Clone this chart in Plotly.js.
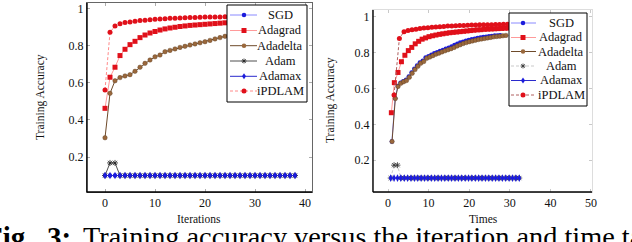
<!DOCTYPE html>
<html><head><meta charset="utf-8">
<script src="https://cdn.plot.ly/plotly-3.0.1.min.js"></script>
<style>html,body{margin:0;padding:0;background:#fff;overflow:hidden}#chart{width:632px;height:242px}</style>
</head><body><div id="chart"></div>
<script>
// ---------- Left panel: accuracy vs iterations ----------
const iterations = [0,1,2,3,4,5,6,7,8,9,10,11,12,13,14,15,16,17,18,19,20,21,22,23,24,25,26,27,28,29,30,31,32,33,34,35,36,37,38];
const iterSGD      = [0.1,0.1,0.1,0.1,0.1,0.1,0.1,0.1,0.1,0.1,0.1,0.1,0.1,0.1,0.1,0.1,0.1,0.1,0.1,0.1,0.1,0.1,0.1,0.1,0.1,0.1,0.1,0.1,0.1,0.1,0.1,0.1,0.1,0.1,0.1,0.1,0.1,0.1,0.1];
const iterAdagrad  = [0.463,0.631,0.685,0.748,0.782,0.807,0.825,0.845,0.859,0.870,0.878,0.886,0.892,0.897,0.901,0.905,0.908,0.911,0.913,0.915,0.917,0.919,0.921,0.923,0.925,0.927,0.928,0.930,0.931,0.932,0.933,0.934,0.935,0.936,0.937,0.938,0.939,0.940,0.941];
const iterAdadelta = [0.304,0.544,0.612,0.629,0.638,0.645,0.663,0.685,0.706,0.724,0.741,0.751,0.769,0.776,0.784,0.792,0.798,0.805,0.811,0.817,0.823,0.830,0.838,0.845,0.852,0.857,0.862,0.866,0.870,0.874,0.877,0.880,0.883,0.886,0.889,0.891,0.893,0.895,0.897];
const iterAdam     = [0.1,0.168,0.168,0.1,0.1,0.1,0.1,0.1,0.1,0.1,0.1,0.1,0.1,0.1,0.1,0.1,0.1,0.1,0.1,0.1,0.1,0.1,0.1,0.1,0.1,0.1,0.1,0.1,0.1,0.1,0.1,0.1,0.1,0.1,0.1,0.1,0.1,0.1,0.1];
const iterAdamax   = [0.1,0.1,0.1,0.1,0.1,0.1,0.1,0.1,0.1,0.1,0.1,0.1,0.1,0.1,0.1,0.1,0.1,0.1,0.1,0.1,0.1,0.1,0.1,0.1,0.1,0.1,0.1,0.1,0.1,0.1,0.1,0.1,0.1,0.1,0.1,0.1,0.1,0.1,0.1];
const iterIPDLAM   = [0.562,0.874,0.908,0.920,0.926,0.930,0.934,0.937,0.939,0.942,0.944,0.946,0.947,0.949,0.950,0.951,0.952,0.953,0.954,0.955,0.956,0.956,0.957,0.957,0.958,0.958,0.959,0.959,0.960,0.960,0.960,0.961,0.961,0.961,0.962,0.962,0.962,0.963,0.963];

// ---------- Right panel: accuracy vs time ----------
const timeSGD      = [0.95,1.75,2.40,3.08,3.76,4.44,5.12,5.80,6.48,7.16,7.84,8.55,9.26,9.97,10.68,11.39,12.10,12.81,13.52,14.23,14.94,15.65,16.36,17.07,17.78,18.49,19.20,19.91,20.62,21.33,22.04,22.75,23.46,24.17,24.88,25.59,26.30,27.01,27.62];
const accSGD       = [0.304,0.546,0.614,0.632,0.641,0.649,0.668,0.690,0.711,0.729,0.746,0.756,0.774,0.781,0.789,0.797,0.803,0.810,0.816,0.822,0.828,0.835,0.843,0.850,0.857,0.862,0.867,0.871,0.875,0.879,0.882,0.885,0.888,0.890,0.892,0.894,0.896,0.897,0.898];
const timeAdagrad  = [0.82,1.56,2.46,3.30,4.15,5.00,5.85,6.70,7.55,8.40,9.25,10.10,10.95,11.80,12.65,13.50,14.35,15.20,16.05,16.90,17.75,18.60,19.45,20.30,21.15,22.00,22.85,23.70,24.55,25.40,26.25,27.10,27.95,28.80,29.65,30.50,31.35,32.20,33.05];
const accAdagrad   = [0.465,0.633,0.690,0.750,0.786,0.812,0.830,0.850,0.864,0.876,0.883,0.890,0.895,0.899,0.903,0.906,0.909,0.912,0.914,0.916,0.918,0.920,0.922,0.924,0.926,0.928,0.929,0.931,0.932,0.933,0.934,0.935,0.936,0.937,0.938,0.939,0.940,0.941,0.942];
const timeAdadelta = [0.99,1.80,2.46,3.15,3.85,4.55,5.25,5.95,6.65,7.35,8.05,8.80,9.55,10.30,11.05,11.80,12.55,13.30,14.05,14.80,15.55,16.30,17.05,17.80,18.55,19.30,20.05,20.80,21.55,22.30,23.05,23.80,24.55,25.30,26.05,26.80,27.55,28.30,29.05];
const accAdadelta  = [0.304,0.544,0.612,0.629,0.638,0.645,0.663,0.685,0.706,0.724,0.741,0.751,0.769,0.776,0.784,0.792,0.798,0.805,0.811,0.817,0.823,0.830,0.838,0.845,0.852,0.857,0.862,0.866,0.870,0.874,0.877,0.880,0.883,0.886,0.889,0.891,0.893,0.895,0.897];
const timeAdam     = [0.66,1.49,2.33,3.16,4.00,4.83,5.66,6.50,7.33,8.16,9.00,9.83,10.66,11.50,12.33,13.16,14.00,14.83,15.66,16.50,17.33,18.16,19.00,19.83,20.66,21.50,22.33,23.16,24.00,24.83,25.66,26.50,27.33,28.16,29.00,29.83,30.66,31.50,32.33];
const accAdam      = [0.1,0.172,0.172,0.1,0.1,0.1,0.1,0.1,0.1,0.1,0.1,0.1,0.1,0.1,0.1,0.1,0.1,0.1,0.1,0.1,0.1,0.1,0.1,0.1,0.1,0.1,0.1,0.1,0.1,0.1,0.1,0.1,0.1,0.1,0.1,0.1,0.1,0.1,0.1];
const timeAdamax   = [0.66,1.49,2.33,3.16,4.00,4.83,5.66,6.50,7.33,8.16,9.00,9.83,10.66,11.50,12.33,13.16,14.00,14.83,15.66,16.50,17.33,18.16,19.00,19.83,20.66,21.50,22.33,23.16,24.00,24.83,25.66,26.50,27.33,28.16,29.00,29.83,30.66,31.50,32.33];
const accAdamax    = [0.1,0.1,0.1,0.1,0.1,0.1,0.1,0.1,0.1,0.1,0.1,0.1,0.1,0.1,0.1,0.1,0.1,0.1,0.1,0.1,0.1,0.1,0.1,0.1,0.1,0.1,0.1,0.1,0.1,0.1,0.1,0.1,0.1,0.1,0.1,0.1,0.1,0.1,0.1];
const timeIPDLAM   = [1.48,2.80,3.94,4.92,5.90,6.88,7.86,8.84,9.82,10.80,11.78,12.76,13.74,14.72,15.70,16.68,17.66,18.64,19.62,20.60,21.58,22.56,23.54,24.52,25.50,26.48,27.46,28.44,29.42,30.40,31.38,32.36,33.34,34.32,35.30,36.28,37.26,38.24,39.22];
const accIPDLAM    = [0.564,0.880,0.918,0.924,0.928,0.932,0.935,0.938,0.940,0.942,0.944,0.946,0.947,0.949,0.950,0.951,0.952,0.953,0.954,0.955,0.955,0.956,0.956,0.957,0.957,0.958,0.958,0.959,0.959,0.960,0.960,0.960,0.961,0.961,0.961,0.962,0.962,0.962,0.963];

const yTickVals = [0.2,0.4,0.6,0.8,1];
const yTickText = ['0.2','0.4','0.6','0.8','1'];
const xTicksIter = [0,10,20,30,40];
const xTicksTime = [0,10,20,30,40,50];
const seriesNames = ['SGD','Adagrad','Adadelta','Adam','Adamax','iPDLAM'];

const FONT = "'Liberation Serif', 'Times New Roman', 'DejaVu Serif', serif";
const RED = '#e0101a', BLUE = '#1c1cdc', BROWN = '#9a683c';
const W = 632, H = 242;
const px = v => v / W, py = v => 1 - v / H;

function styleFor(side, i){
  const L = side === 'L';
  return [
    {line:{color:'#8a8aff',width:1}, marker:{symbol:'circle',size:4.5,color:BLUE}},
    {line:{color:'#ff9a9a',width:1}, marker:{symbol:'square',size:5,color:RED}},
    {line:{color:'#6e4a2a',width:1}, marker:{symbol:'circle',size:4.5,color:BROWN,line:{color:'#5a3d22',width:0.4}}},
    L ? {line:{color:'#222',width:0.8}, marker:{symbol:'asterisk-open',size:5,color:'#222',line:{color:'#222',width:0.8}}}
      : {line:{color:'#bbb',width:0.8,dash:'3px,2px'}, marker:{symbol:'asterisk-open',size:5,color:'#333',line:{color:'#333',width:0.8}}},
    {line:{color:'#2a2acc',width:1}, marker:{symbol:'diamond-tall',size:5.5,color:BLUE}},
    L ? {line:{color:'#ff8a8a',width:1,dash:'3px,2px'}, marker:{symbol:'circle',size:5,color:RED}}
      : {line:{color:'#b06060',width:1,dash:'3px,2px'}, marker:{symbol:'circle',size:5,color:RED}}
  ][i];
}

function traces(side){
  const L = side === 'L';
  const data = L ? [
    [iterations, iterSGD],[iterations, iterAdagrad],[iterations, iterAdadelta],
    [iterations, iterAdam],[iterations, iterAdamax],[iterations, iterIPDLAM]
  ] : [
    [timeSGD, accSGD],[timeAdagrad, accAdagrad],[timeAdadelta, accAdadelta],
    [timeAdam, accAdam],[timeAdamax, accAdamax],[timeIPDLAM, accIPDLAM]
  ];
  return data.map((d,i)=>Object.assign({
    type:'scatter', mode:'lines+markers', x:d[0], y:d[1], name:seriesNames[i],
    xaxis: L?'x':'x2', yaxis: L?'y':'y2', showlegend:false, cliponaxis:true, hoverinfo:'skip'
  }, styleFor(side,i)));
}

// Hand-built legend boxes (pgfplots style: compact rows)
function legendItems(side, box){
  const shapes = [{type:'rect', xref:'paper', yref:'paper', x0:px(box.x0), x1:px(box.x1), y0:py(box.y1), y1:py(box.y0),
                   fillcolor:'#fff', line:{color:'#000', width:1}, layer:'above'}];
  const anns = [];
  seriesNames.forEach((name,i)=>{
    const s = styleFor(side,i), y = box.rows[i];
    shapes.push({type:'line', xref:'paper', yref:'paper', x0:px(box.lx0), x1:px(box.lx1), y0:py(y), y1:py(y),
                 line:{color:s.line.color, width:s.line.width, dash:s.line.dash||'solid'}});
    const m = s.marker, base = {xref:'paper', yref:'paper', xsizemode:'pixel', ysizemode:'pixel', xanchor:px(box.mx), yanchor:py(y)};
    const r = m.size/2;
    if (m.symbol === 'circle') shapes.push(Object.assign({type:'circle', x0:-r, x1:r, y0:-r, y1:r, fillcolor:m.color, line:{width:0}}, base));
    else if (m.symbol === 'square') shapes.push(Object.assign({type:'rect', x0:-r, x1:r, y0:-r, y1:r, fillcolor:m.color, line:{width:0}}, base));
    else if (m.symbol === 'diamond-tall') shapes.push(Object.assign({type:'path', path:'M0,-3L2,0L0,3L-2,0Z', fillcolor:m.color, line:{width:0}}, base));
    else shapes.push(Object.assign({type:'path', path:'M-2.5,0H2.5M0,-2.5V2.5M-1.8,-1.8L1.8,1.8M-1.8,1.8L1.8,-1.8', line:{color:m.color, width:0.8}}, base));
    anns.push({text:name, xref:'paper', yref:'paper', x:px(box.tx), y:py(y), xanchor:'center', yanchor:'middle',
               showarrow:false, font:{family:FONT, size:12.5, color:'#111'}});
  });
  return {shapes, anns};
}

const legL = legendItems('L', {x0:227, x1:307, y0:5, y1:102, lx0:230, lx1:257, mx:244, tx:280, rows:[15,30.5,45.7,61,76.3,91]});
const legR = legendItems('R', {x0:509, x1:587, y0:13, y1:106, lx0:511, lx1:536, mx:523, tx:561, rows:[23,37.5,51.5,66,80.5,95]});

const axBase = {
  showgrid:false, zeroline:false, ticks:'inside', ticklen:3, tickwidth:0.8,
  showline:true, mirror:'ticks', linewidth:1,
  tickfont:{family:FONT,size:12,color:'#111'}, fixedrange:true
};

const layout = {
  width:W, height:H, margin:{l:0,r:0,t:0,b:0},
  paper_bgcolor:'#fff', plot_bgcolor:'#fff', showlegend:false,
  font:{family:FONT, color:'#111'},
  xaxis: Object.assign({}, axBase, {domain:[px(87),px(312)], range:[-3.6,41.4], tickvals:xTicksIter, linecolor:'#666', tickcolor:'#999', anchor:'y'}),
  yaxis: Object.assign({}, axBase, {domain:[py(192),py(3)], range:[0.011,1.032], tickvals:yTickVals, ticktext:yTickText, linecolor:'#666', tickcolor:'#999', anchor:'x'}),
  xaxis2: Object.assign({}, axBase, {domain:[px(373),px(592)], range:[-3.7,50.25], tickvals:xTicksTime, linecolor:'#ddd', tickcolor:'#bbb', anchor:'y2'}),
  yaxis2: Object.assign({}, axBase, {domain:[py(192),py(10)], range:[0.022,1.039], tickvals:yTickVals, ticktext:yTickText, linecolor:'#ddd', tickcolor:'#bbb', anchor:'x2'}),
  shapes: [
    {type:'line', xref:'x domain', yref:'y domain', x0:0, x1:0, y0:0, y1:1, line:{color:'#000',width:1.4}},
    {type:'line', xref:'x domain', yref:'y domain', x0:0, x1:1, y0:0, y1:0, line:{color:'#000',width:1.4}},
    {type:'line', xref:'x2 domain', yref:'y2 domain', x0:0, x1:0, y0:0, y1:1, line:{color:'#000',width:1.4}},
    {type:'line', xref:'x2 domain', yref:'y2 domain', x0:0, x1:1, y0:0, y1:0, line:{color:'#000',width:1.4}}
  ].concat(legL.shapes, legR.shapes),
  annotations: [
    {text:'Training Accuracy', xref:'paper', yref:'paper', x:px(40), y:py(97), xanchor:'center', yanchor:'middle', textangle:-90, showarrow:false, font:{family:FONT,size:11.5,color:'#111'}},
    {text:'Training Accuracy', xref:'paper', yref:'paper', x:px(331), y:py(100), xanchor:'center', yanchor:'middle', textangle:-90, showarrow:false, font:{family:FONT,size:11.5,color:'#111'}},
    {text:'Iterations', xref:'paper', yref:'paper', x:px(199), y:py(219), xanchor:'center', yanchor:'middle', showarrow:false, font:{family:FONT,size:11.5,color:'#111'}},
    {text:'Times', xref:'paper', yref:'paper', x:px(483), y:py(219), xanchor:'center', yanchor:'middle', showarrow:false, font:{family:FONT,size:11.5,color:'#111'}},
    {text:'<b>Fig.</b>', xref:'paper', yref:'paper', x:px(35), xanchor:'right', y:py(236.5), yanchor:'middle', showarrow:false, font:{family:FONT,size:29,color:'#000'}},
    {text:'<b>3:</b>', xref:'paper', yref:'paper', x:px(45), xanchor:'left', y:py(236.5), yanchor:'middle', showarrow:false, font:{family:FONT,size:29,color:'#000'}},
    {text:'Training accuracy versus the iteration and time taken', xref:'paper', yref:'paper', x:px(81), xanchor:'left', y:py(236.5), yanchor:'middle', showarrow:false, font:{family:FONT,size:28.3,color:'#000'}}
  ].concat(legL.anns, legR.anns)
};

Plotly.newPlot('chart', traces('L').concat(traces('R')), layout, {staticPlot:true, displayModeBar:false});
</script>
</body></html>
